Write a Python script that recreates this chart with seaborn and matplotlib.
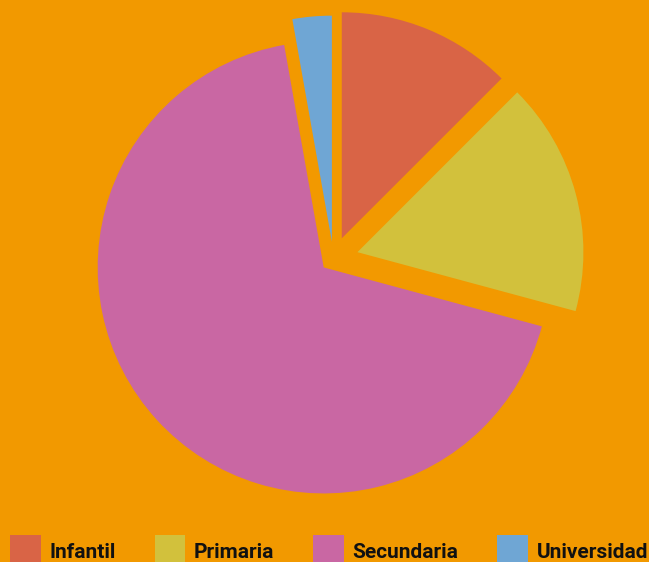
import matplotlib
matplotlib.use("Agg")
import matplotlib.pyplot as plt
import seaborn as sns

# data
categories = ["Infantil", "Primaria", "Secundaria", "Universidad"]
shares = [12.5, 16.7, 68.0, 2.8]
slice_colors = ["#D96446", "#D2C13C", "#C967A3", "#6FA6D4"]
explode = [0.097, 0.11, 0.058, 0.075]

bg = "#F29900"

sns.set_style("white", {"axes.facecolor": bg, "figure.facecolor": bg})
plt.rcParams["font.family"] = ["Roboto", "DejaVu Sans"]

fig = plt.figure(figsize=(6.49, 5.62), dpi=100)
ax = fig.add_axes([0, 0, 1, 1])

wedges, _ = ax.pie(
    shares,
    colors=sns.color_palette(slice_colors),
    explode=explode,
    startangle=90,
    counterclock=False,
    radius=1.0,
    wedgeprops={"linewidth": 0},
)
ax.set_xlim(-1.475, 1.3965)
ax.set_ylim(-1.3425, 1.144)
ax.set_aspect("equal")
ax.axis("off")

fs = 15.0
leg = fig.legend(
    wedges, categories,
    ncol=4,
    loc="lower left",
    bbox_to_anchor=(10 / 649, -5 / 562),
    frameon=False,
    prop={"weight": "bold", "size": fs},
    handlelength=1.48,
    handleheight=1.98,
    handletextpad=0.42,
    columnspacing=1.85,
    borderpad=0,
    borderaxespad=0,
)
for t in leg.get_texts():
    t.set_color("#111111")

fig.savefig("out.png", dpi=100, facecolor=bg)
